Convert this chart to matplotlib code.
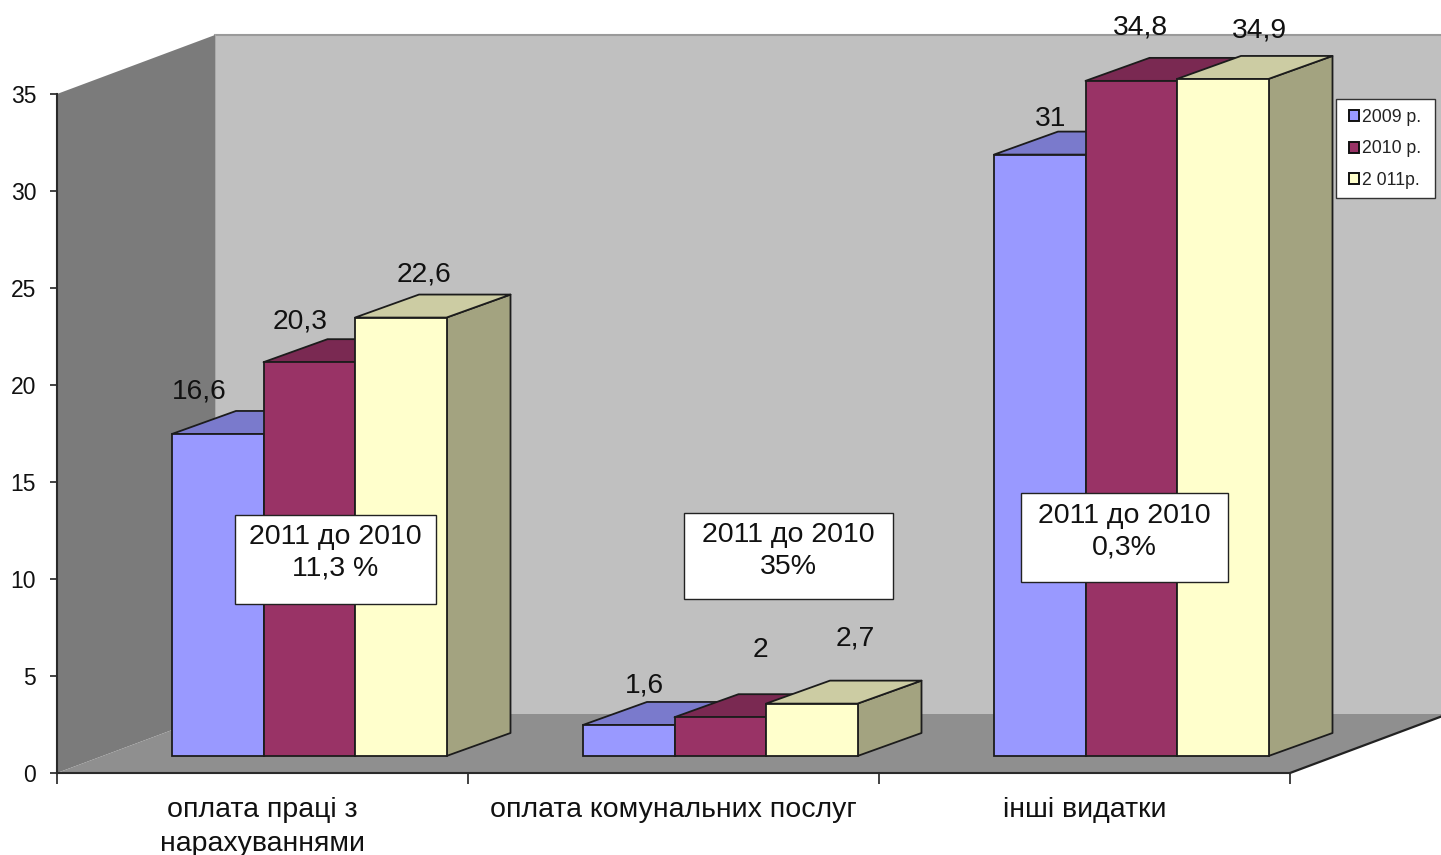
import matplotlib
matplotlib.use("Agg")
import matplotlib.pyplot as plt
from matplotlib.patches import Polygon, Patch

plt.rcParams['font.family'] = ['Liberation Sans', 'DejaVu Sans']

categories = ["оплата праці з\nнарахуваннями", "оплата комунальних послуг", "інші видатки"]
series_names = ["2009 р.", "2010 р.", "2 011р."]
values_2009 = [16.6, 1.6, 31]
values_2010 = [20.3, 2, 34.8]
values_2011 = [22.6, 2.7, 34.9]
y_ticks = [0, 5, 10, 15, 20, 25, 30, 35]
notes = ["2011 до 2010\n11,3 %", "2011 до 2010\n35%", "2011 до 2010\n0,3%"]

W, H = 1441, 855
LEFT, RIGHT, BASE, TOP = 57, 1290, 773, 94
UX = (RIGHT - LEFT) / 3
UY = (BASE - TOP) / 35

fig = plt.figure(figsize=(W / 100, H / 100), dpi=100, facecolor='white')
ax = fig.add_axes([LEFT / W, 1 - BASE / H, (RIGHT - LEFT) / W, (BASE - TOP) / H])
ax.set_xlim(0, 3)
ax.set_ylim(0, 35)
ax.patch.set_visible(False)

# depth of the box and of the bars, in data units
wall_dx, wall_dy = 158 / UX, 59 / UY
bar_dx, bar_dy = 64 / UX, 23 / UY
bar_w = 91.5 / UX
bar_start = 115 / UX
bar_base = 17 / UY
far_x = (W + 20 - LEFT) / UX


def poly(points, face, edge='none', lw=0, z=1):
    ax.add_patch(Polygon(points, closed=True, facecolor=face, edgecolor=edge,
                         linewidth=lw, zorder=z, clip_on=False, joinstyle='round'))


# back wall, left wall, floor
poly([(wall_dx, wall_dy), (far_x, wall_dy), (far_x, 35 + wall_dy), (wall_dx, 35 + wall_dy)],
     '#c0c0c0', z=1)
ax.plot([wall_dx, far_x], [35 + wall_dy] * 2, color='#9a9a9a', lw=1.5, zorder=1.1, clip_on=False)
ax.plot([wall_dx] * 2, [wall_dy, 35 + wall_dy], color='#a6a6a6', lw=1.2, zorder=1.1, clip_on=False)
poly([(0, 0), (wall_dx, wall_dy), (wall_dx, 35 + wall_dy), (0, 35)], '#7b7b7b', z=1.2)
poly([(0, 0), (3, 0), (3 + wall_dx, wall_dy), (wall_dx, wall_dy)], '#8f8f8f', z=1.2)
ax.plot([3, 3 + wall_dx], [0, wall_dy], color='#222222', lw=1.6, zorder=1.3, clip_on=False)

styles = [('#9999ff', '#7a7acc', '#5c5c99'),
          ('#993366', '#7a2952', '#5c1f3d'),
          ('#ffffcc', '#cccca3', '#a3a380')]
series = [values_2009, values_2010, values_2011]
offsets = [[(-18, 42), (16, 39), (11, 36)],
           [(-9, 41), (40, 67), (9, 53)],
           [(23, 43), (44, 65), (37, 48)]]
edge = '#1c1c1c'
z = 3
for c in range(len(categories)):
    for s, vals in enumerate(series):
        x0 = c + bar_start + s * bar_w
        x1 = x0 + bar_w
        y0 = bar_base
        y1 = bar_base + vals[c]
        front, top, side = styles[s]
        poly([(x1, y0), (x1 + bar_dx, y0 + bar_dy), (x1 + bar_dx, y1 + bar_dy), (x1, y1)],
             side, edge, 1.3, z)
        poly([(x0, y1), (x1, y1), (x1 + bar_dx, y1 + bar_dy), (x0 + bar_dx, y1 + bar_dy)],
             top, edge, 1.3, z)
        ax.bar(x0, vals[c], width=bar_w, bottom=y0, align='edge', color=front,
               edgecolor=edge, linewidth=1.3, zorder=z + 0.1, clip_on=False)
        ax.annotate(f"{vals[c]:g}".replace('.', ','), xy=((x0 + x1) / 2, y1),
                    xytext=offsets[s][c], textcoords='offset pixels', ha='center',
                    va='center', fontsize=20.3, color='#111111', zorder=6,
                    annotation_clip=False)
        z += 0.2

# note boxes (figure pixel extents: left, top, right, bottom)
note_boxes = [(235, 515, 436, 604), (684, 513, 893, 599), (1021, 493, 1228, 582)]
note_text_y = [553, 551, 532]
for text, (l, t, r, b), ty in zip(notes, note_boxes, note_text_y):
    fig.add_artist(plt.Rectangle((l / W, 1 - b / H), (r - l) / W, (b - t) / H,
                                 transform=fig.transFigure, facecolor='white',
                                 edgecolor='#222222', linewidth=1, zorder=8))
    fig.text((l + r) / 2 / W, 1 - ty / H, text, ha='center', va='center', fontsize=20.5,
             color='#111111', zorder=9, linespacing=1.28)

# axes
ax.set_xticks([0, 1, 2, 3])
ax.set_xticklabels([])
ax.set_xticks([0.5, 1.5, 2.5], minor=True)
ax.set_xticklabels(categories, minor=True, fontsize=20.5, color='#111111', linespacing=1.36)
ax.tick_params(axis='x', which='major', length=8, width=1.2, color='#222222')
ax.tick_params(axis='x', which='minor', length=0, pad=17.5)
ax.set_yticks(y_ticks)
ax.tick_params(axis='y', length=5, width=1.2, color='#222222', pad=10, labelsize=16.5,
               labelcolor='#111111')
for name in ('top', 'right'):
    ax.spines[name].set_visible(False)
for name in ('left', 'bottom'):
    ax.spines[name].set_color('#2a2a2a')
    ax.spines[name].set_linewidth(1.5)
    ax.spines[name].set_zorder(2.5)

# legend: own frame, entries inside it
fig.add_artist(plt.Rectangle((1336 / W, 1 - 198 / H), 99 / W, 99 / H,
                             transform=fig.transFigure, facecolor='white',
                             edgecolor='#333333', linewidth=1, zorder=9))
handles = [Patch(facecolor=st[0], edgecolor='#111111', linewidth=1.4) for st in styles]
leg = fig.legend(handles, series_names, loc='upper left',
                 bbox_to_anchor=(1339 / W, 1 - 99 / H), bbox_transform=fig.transFigure,
                 fontsize=12.7, frameon=False,
                 handlelength=0.6, handleheight=0.6, handletextpad=0.15, labelspacing=0.83,
                 borderpad=0.55, borderaxespad=0, labelcolor='#222222')
leg.set_zorder(10)

fig.savefig('out.png', dpi=100)
